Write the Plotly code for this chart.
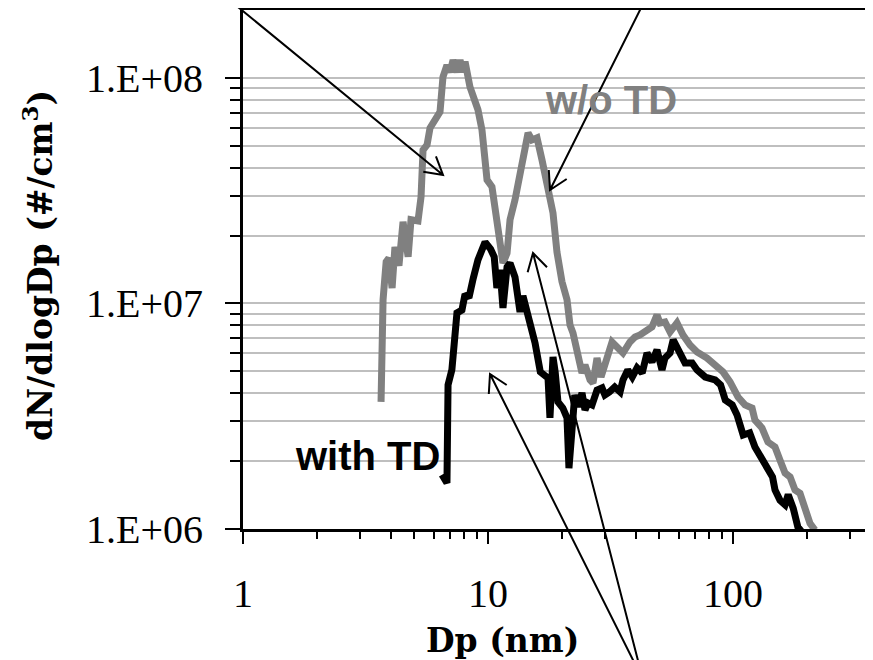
import math
import plotly.graph_objects as go

# ---------------- data ----------------
dp_wo_td = [3.66, 3.73, 3.84, 3.94, 4.06, 4.17, 4.33, 4.50, 4.72, 4.85, 5.18, 5.33, 5.43, 5.64,
            5.80, 6.19, 6.37, 6.55, 6.80, 7.00, 7.20, 7.47, 7.69, 7.91, 8.06, 8.44, 9.10, 9.45,
            9.91, 10.38, 10.68, 10.98, 11.41, 11.51, 11.96, 12.30, 12.89, 13.51, 14.16, 14.57,
            15.12, 15.85, 16.61, 17.58, 18.42, 19.12, 20.04, 21.01, 21.61, 22.23, 23.30, 24.19,
            24.88, 26.09, 26.83, 27.86, 28.93, 30.60, 32.08, 33.93, 35.56, 37.97, 39.81, 41.72,
            44.57, 46.71, 48.96, 50.35, 52.77, 55.33, 59.08, 62.52, 66.76, 71.30, 78.33, 86.05,
            91.04, 97.23, 104.8, 111.9, 119.6, 122.9, 131.3, 138.9, 148.4, 155.6, 163.1, 171.0,
            179.1, 187.7, 196.8, 206.2, 216.1]
n_wo_td = [3.66e6, 1.04e7, 1.53e7, 1.59e7, 1.17e7, 1.78e7, 1.47e7, 2.30e7, 1.61e7, 2.35e7,
           2.32e7, 2.97e7, 4.79e7, 5.05e7, 6.00e7, 6.65e7, 7.07e7, 1.01e8, 1.14e8, 1.06e8,
           1.20e8, 1.06e8, 1.20e8, 1.06e8, 1.18e8, 9.12e7, 7.22e7, 5.88e7, 3.53e7, 3.29e7,
           2.60e7, 1.97e7, 1.61e7, 1.51e7, 1.67e7, 2.35e7, 2.88e7, 3.79e7, 5.15e7, 5.70e7,
           5.31e7, 5.42e7, 4.33e7, 3.29e7, 2.52e7, 1.69e7, 1.25e7, 1.04e7, 8.03e6, 7.40e6,
           5.62e6, 4.92e6, 5.34e6, 4.58e6, 4.44e6, 5.73e6, 4.72e6, 5.91e6, 6.75e6, 6.35e6,
           6.03e6, 6.75e6, 7.10e6, 7.25e6, 7.63e6, 7.87e6, 8.89e6, 8.20e6, 8.28e6, 7.47e6,
           8.20e6, 7.25e6, 6.55e6, 6.10e6, 5.73e6, 5.23e6, 4.97e6, 4.49e6, 3.85e6, 3.55e6,
           3.44e6, 3.04e6, 2.81e6, 2.43e6, 2.31e6, 2.02e6, 1.77e6, 1.70e6, 1.49e6, 1.44e6,
           1.21e6, 1.06e6, 0.99e6]

dp_with_td = [6.49, 6.80, 6.87, 7.12, 7.47, 7.83, 8.06, 8.36, 8.70, 9.10, 9.73, 10.25, 10.6,
              10.87, 11.2, 11.51, 11.96, 12.30, 12.89, 13.25, 13.51, 13.89, 14.57, 15.12, 15.56,
              16.35, 17.12, 17.58, 17.9, 18.42, 18.8, 19.3, 20.2, 21.01, 21.4, 21.99, 22.6, 23.3,
              24.19, 24.88, 25.6, 26.58, 27.86, 29.2, 30.0, 31.3, 32.9, 34.6, 35.56, 37.2, 38.8,
              40.6, 42.6, 44.57, 46.71, 48.96, 51.3, 52.77, 55.33, 57.0, 59.08, 61.9, 63.7, 68.1,
              71.3, 77.0, 84.5, 89.0, 93.0, 99.3, 103.9, 110.0, 117.0, 122.9, 133.0, 145.0,
              148.4, 155.6, 163.1, 168.0, 176.0, 184.0, 191.0]
n_with_td = [1.74e6, 1.60e6, 4.35e6, 5.07e6, 9.08e6, 9.36e6, 1.10e7, 1.06e7, 1.29e7, 1.56e7,
             1.87e7, 1.74e7, 1.61e7, 1.17e7, 1.41e7, 9.55e6, 1.45e7, 1.51e7, 1.31e7, 1.12e7,
             9.17e6, 1.08e7, 8.80e6, 7.63e6, 6.68e6, 4.97e6, 4.82e6, 4.67e6, 3.11e6, 5.79e6,
             4.97e6, 3.66e6, 3.44e6, 3.11e6, 1.86e6, 2.56e6, 3.93e6, 3.48e6, 4.01e6, 3.37e6,
             3.62e6, 3.55e6, 4.13e6, 4.22e6, 3.93e6, 4.05e6, 4.26e6, 4.05e6, 4.58e6, 5.07e6,
             4.72e6, 5.18e6, 4.92e6, 6.03e6, 5.50e6, 6.22e6, 5.07e6, 5.73e6, 6.03e6, 6.89e6,
             6.41e6, 5.91e6, 5.45e6, 5.45e6, 5.07e6, 4.72e6, 4.58e6, 4.35e6, 3.73e6, 3.55e6,
             3.20e6, 2.61e6, 2.67e6, 2.31e6, 1.96e6, 1.70e6, 1.49e6, 1.34e6, 1.28e6, 1.42e6,
             1.24e6, 1.02e6, 0.97e6]

x_tick_vals = [1, 10, 100]
x_tick_text = ["1", "10", "100"]
x_minor_vals = [2, 3, 4, 5, 6, 7, 8, 9, 20, 30, 40, 50, 60, 70, 80, 90, 200, 300]
y_tick_vals = [1e6, 1e7, 1e8]
y_tick_text = ["1.E+06", "1.E+07", "1.E+08"]
y_minor_vals = [k * 1e6 for k in range(2, 10)] + [k * 1e7 for k in range(2, 10)]

x_title = "Dp (nm)"
y_title = "dN/dlogDp (#/cm<sup>3</sup>)"
label_wo = "w/o TD"
label_with = "with TD"

# ---------------- layout geometry ----------------
OFF = 8                      # page body margin of the html page
CW, CH = 873, 660            # browser window
W, H = CW - OFF, CH - OFF    # figure size so it fits the window exactly
PLOT_L, PLOT_T, PLOT_B = 243, 10, 529   # plot-area edges in window pixels
ML, MT, MR = PLOT_L - OFF, PLOT_T - OFF, 0
MB = CH - PLOT_B
PW, PH = W - ML - MR, H - MT - MB
DEC_X = 245.0   # px per decade on x
X_MAX = PW / DEC_X
Y_MAX = math.log10(2e8)

SERIF = "Liberation Serif"
TITLE_SERIF = "DejaVu Serif"
SANS = "Liberation Sans"


def px(x):
    return (x - PLOT_L) / PW


def py(y):
    return (PLOT_B - y) / PH


fig = go.Figure()
fig.add_trace(go.Scatter(x=dp_wo_td, y=n_wo_td, mode="lines", name=label_wo,
                         line=dict(color="#808080", width=7), showlegend=False))
fig.add_trace(go.Scatter(x=dp_with_td, y=n_with_td, mode="lines", name=label_with,
                         line=dict(color="#000000", width=7), showlegend=False))

fig.update_layout(
    width=W, height=H,
    margin=dict(l=ML, r=MR, t=MT, b=MB, pad=0),
    paper_bgcolor="white", plot_bgcolor="white",
    showlegend=False,
    xaxis=dict(type="log", range=[0, X_MAX], showline=True, linecolor="black", linewidth=3,
               mirror=True, showgrid=False, zeroline=False,
               ticks="outside", ticklen=12, tickwidth=2, tickcolor="black",
               tickvals=x_tick_vals, ticktext=x_tick_text, ticklabelstandoff=15,
               tickfont=dict(family=SERIF, size=40, color="black"),
               minor=dict(ticks="outside", ticklen=7, tickwidth=2, tickcolor="black",
                          tickvals=x_minor_vals, showgrid=False)),
    yaxis=dict(type="log", range=[6, Y_MAX], showline=True, linecolor="black", linewidth=3,
               mirror=False, showgrid=True, gridcolor="#bfbfbf", gridwidth=2, zeroline=False,
               ticks="outside", ticklen=15, tickwidth=2, tickcolor="black",
               tickvals=y_tick_vals, ticktext=y_tick_text, ticklabelstandoff=14,
               tickfont=dict(family=SERIF, size=40, color="black"),
               minor=dict(ticks="outside", ticklen=10, tickwidth=2, tickcolor="black",
                          tickvals=y_minor_vals, showgrid=True, gridcolor="#bfbfbf",
                          gridwidth=2)),
)

annotations = [
    dict(text=label_wo, x=px(611), y=py(100), xref="paper", yref="paper", showarrow=False,
         xanchor="center", yanchor="middle",
         font=dict(family=SANS, size=40, color="#808080", weight="bold")),
    dict(text=label_with, x=px(367), y=py(456), xref="paper", yref="paper", showarrow=False,
         xanchor="center", yanchor="middle",
         font=dict(family=SANS, size=40, color="black", weight="bold")),
    dict(text=x_title, x=px(502), y=py(640), xref="paper", yref="paper", showarrow=False,
         xanchor="center", yanchor="middle",
         font=dict(family=TITLE_SERIF, size=33, color="black", weight="bold")),
    dict(text=y_title, x=px(38), y=py(266), xref="paper", yref="paper", showarrow=False,
         xanchor="center", yanchor="middle", textangle=-90,
         font=dict(family=TITLE_SERIF, size=33, color="black", weight="bold")),
]
fig.update_layout(annotations=annotations)

# arrows (tail -> tip), in window pixels
arrows = [
    ((205, -20), (443, 175)),
    ((655, -20), (550, 190)),
    ((643, 680), (490, 374)),
    ((643, 680), (533, 253)),
]
shapes = []
ARM, ANG = 20.0, math.radians(30)
for (tx, ty), (hx, hy) in arrows:
    dx, dy = tx - hx, ty - hy
    L = math.hypot(dx, dy)
    ux, uy = dx / L, dy / L
    arms = []
    for s in (1, -1):
        c, sn = math.cos(s * ANG), math.sin(s * ANG)
        ax = hx + ARM * (ux * c - uy * sn)
        ay = hy + ARM * (ux * sn + uy * c)
        arms.append((ax, ay))
    path = (f"M{px(tx)},{py(ty)} L{px(hx)},{py(hy)} "
            f"M{px(arms[0][0])},{py(arms[0][1])} L{px(hx)},{py(hy)} "
            f"L{px(arms[1][0])},{py(arms[1][1])}")
    shapes.append(dict(type="path", path=path, xref="paper", yref="paper",
                       line=dict(color="black", width=2)))
fig.update_layout(shapes=shapes)

fig.write_html("out.html")
